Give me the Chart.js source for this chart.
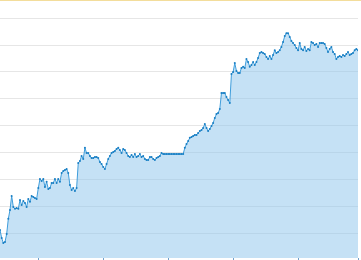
<!DOCTYPE html>
<html>
<head>
<meta charset="utf-8">
<script src="https://cdn.jsdelivr.net/npm/chart.js@4"></script>
<style>
  body { margin: 0; background: #fff; }
  .chart-box { width: 361px; height: 259px; border-top: 1px solid #f3dd9b; }
</style>
</head>
<body>
<div class="chart-box"><canvas id="myChart" width="361" height="259"></canvas></div>
<script>
// series values, one per day
const values = [
  11.5, 8.5, 6.7, 7.0, 10.0, 15.6, 18.9, 24.1, 20.0, 19.3,
  19.6, 19.3, 22.6, 20.7, 22.2, 21.5, 20.0, 23.0, 21.9, 24.1,
  23.7, 23.3, 23.0, 27.0, 30.4, 29.6, 30.4, 27.4, 29.3, 26.7,
  27.0, 28.9, 28.9, 30.4, 28.9, 30.4, 29.3, 32.6, 33.3, 33.7,
  34.1, 32.6, 28.1, 26.3, 27.0, 25.9, 27.0, 36.3, 37.0, 38.9,
  37.8, 41.9, 40.0, 40.0, 38.9, 38.1, 38.1, 38.5, 38.5, 38.1,
  36.7, 35.9, 34.8, 34.1, 35.9, 37.8, 38.9, 40.0, 40.4, 40.7,
  41.5, 41.9, 41.1, 40.0, 41.5, 41.1, 40.0, 38.9, 38.5, 39.3,
  38.5, 39.6, 38.5, 38.9, 39.6, 38.5, 38.9, 37.8, 37.4, 37.4,
  38.5, 38.5, 37.8, 37.4, 38.1, 38.5, 38.9, 40.0, 39.6, 39.6,
  39.6, 39.6, 39.6, 39.6, 39.6, 39.6, 39.6, 39.6, 39.6, 39.6,
  39.6, 41.9, 43.3, 44.4, 45.6, 45.9, 46.3, 46.7, 46.7, 47.4,
  48.1, 48.5, 49.3, 50.7, 49.3, 48.1, 48.9, 50.0, 51.1, 53.0,
  54.4, 54.8, 56.3, 62.2, 62.2, 62.2, 60.7, 59.6, 58.5, 69.3,
  70.0, 73.3, 70.4, 69.6, 69.6, 71.5, 71.9, 71.5, 74.8, 73.7,
  71.9, 72.6, 73.7, 72.6, 73.7, 75.2, 77.0, 77.4, 77.0, 76.7,
  75.6, 74.8, 75.9, 74.8, 76.3, 78.1, 77.0, 77.4, 78.1, 79.3,
  81.1, 83.3, 84.4, 84.4, 83.0, 81.5, 80.7, 80.0, 78.9, 78.1,
  80.7, 78.5, 78.1, 79.3, 77.8, 78.5, 78.1, 81.1, 80.7, 80.0,
  80.4, 79.3, 80.7, 80.7, 80.7, 80.4, 78.9, 77.4, 78.5, 79.3,
  77.4, 76.7, 74.8, 75.6, 75.9, 75.6, 76.3, 75.9, 76.7, 77.4,
  76.3, 76.7, 77.0, 78.1, 78.5, 78.1
];

// where the small marks sit on the bottom axis (index of the day)
const xTicks = [23, 62, 101, 140, 179, 215];

// horizontal grid lines
const yTicks = [10, 20, 30, 40, 50, 60, 70, 80, 90];
const yMin = 1.1;
const yMax = 96.3;

const points = values.map((value, index) => ({ x: index, y: value }));

const chartElementContext = document.getElementById("myChart").getContext("2d");

const myChart = new Chart(chartElementContext, {
  type: "line",
  data: {
    datasets: [
      {
        data: points,
        borderColor: "#3f9ddb",
        borderWidth: 1,
        backgroundColor: "rgba(140, 195, 235, 0.5)",
        fill: "start",
        tension: 0,
        pointRadius: 1,
        pointBorderWidth: 0,
        pointBackgroundColor: "#1a7fc3",
      },
    ],
  },
  options: {
    responsive: false,
    animation: false,
    layout: { autoPadding: false, padding: { left: 0, right: 3, top: 0, bottom: 0 } },
    plugins: {
      legend: { display: false },
      tooltip: { enabled: false },
    },
    scales: {
      x: {
        type: "linear",
        min: 0,
        max: values.length - 1,
        afterBuildTicks: (axis) => {
          axis.ticks = xTicks.map((value) => ({ value }));
        },
        ticks: { display: false },
        border: { display: false },
        grid: {
          drawOnChartArea: false,
          drawTicks: true,
          tickLength: 2,
          color: "#6f9fcc",
        },
      },
      y: {
        min: yMin,
        max: yMax,
        afterBuildTicks: (axis) => {
          axis.ticks = yTicks.map((value) => ({ value }));
        },
        ticks: { display: false },
        border: { display: false },
        grid: {
          drawTicks: false,
          color: "#e6e6e6",
        },
      },
    },
  },
});
</script>
</body>
</html>
